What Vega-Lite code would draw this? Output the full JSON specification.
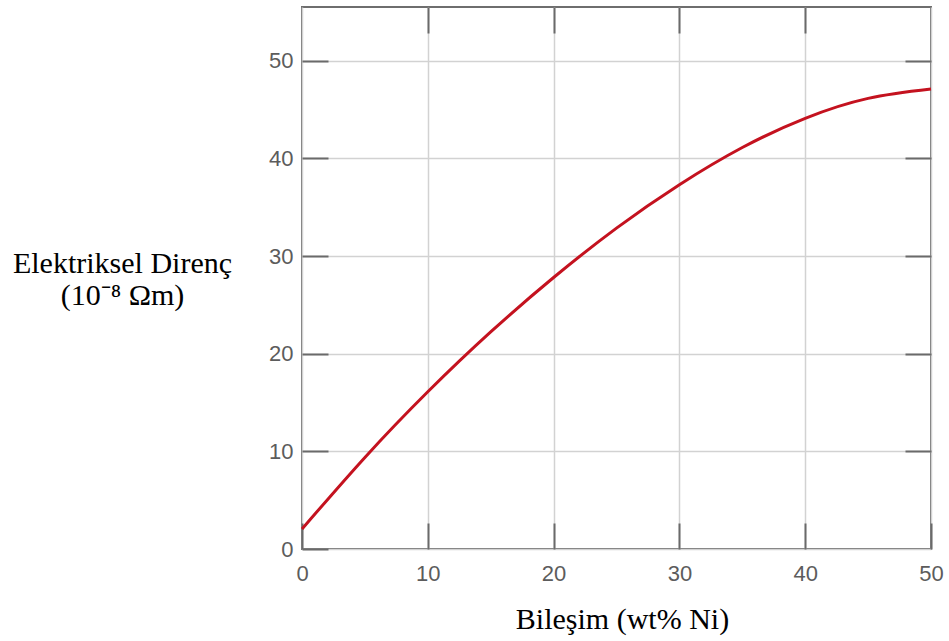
{
  "$schema": "https://vega.github.io/schema/vega-lite/v6.json",
  "width": 629,
  "height": 542,
  "autosize": {"type": "none"},
  "padding": {"left": 302, "top": 7, "right": 18, "bottom": 92},
  "background": "white",
  "config": {
    "view": {"stroke": "#6e6e6e", "strokeWidth": 2},
    "axis": {
      "domain": false,
      "tickColor": "#6a6a6a",
      "tickWidth": 2,
      "tickSize": -26,
      "gridColor": "#d2d2d2",
      "gridWidth": 1.5,
      "labelFont": "Liberation Sans",
      "labelFontSize": 22,
      "labelColor": "#5c5c5c",
      "labelFlush": false,
      "titleFont": "Liberation Serif",
      "titleFontSize": 30,
      "titleFontWeight": "normal",
      "titleColor": "#000000"
    }
  },
  "data": {
    "values": [
      {"ni": 0, "rho": 2.05},
      {"ni": 5, "rho": 9.38},
      {"ni": 10, "rho": 16.1},
      {"ni": 15, "rho": 22.23},
      {"ni": 20, "rho": 27.8},
      {"ni": 25, "rho": 32.86},
      {"ni": 30, "rho": 37.3},
      {"ni": 35, "rho": 41.11},
      {"ni": 40, "rho": 44.1},
      {"ni": 45, "rho": 46.14},
      {"ni": 50, "rho": 47.1}
    ]
  },
  "layer": [
    {
      "mark": {"type": "line", "color": "#c4121f", "strokeWidth": 3, "interpolate": "natural"},
      "encoding": {
        "x": {
          "field": "ni",
          "type": "quantitative",
          "scale": {"domain": [0, 50], "nice": false},
          "axis": {
            "orient": "bottom",
            "values": [0, 10, 20, 30, 40, 50],
            "grid": true,
            "labelPadding": 40,
            "title": "Bileşim (wt% Ni)",
            "titleX": 320,
            "titleY": 79,
            "titleAlign": "center",
            "titleBaseline": "alphabetic"
          }
        },
        "y": {
          "field": "rho",
          "type": "quantitative",
          "scale": {"domain": [0, 55.5], "nice": false},
          "axis": {
            "orient": "left",
            "values": [0, 10, 20, 30, 40, 50],
            "grid": true,
            "labelPadding": 35,
            "title": ["Elektriksel Direnç", "(10⁻⁸ Ωm)"],
            "titleAngle": 0,
            "titleX": -180,
            "titleY": 265,
            "titleAlign": "center",
            "titleBaseline": "alphabetic",
            "titleLineHeight": 32
          }
        }
      }
    },
    {
      "mark": {"type": "line", "opacity": 0},
      "encoding": {
        "x": {
          "field": "ni",
          "type": "quantitative",
          "axis": {"orient": "top", "values": [10, 20, 30, 40], "grid": false, "labels": false, "title": null}
        },
        "y": {
          "field": "rho",
          "type": "quantitative",
          "axis": {"orient": "right", "values": [10, 20, 30, 40, 50], "grid": false, "labels": false, "title": null}
        }
      }
    }
  ],
  "resolve": {"axis": {"x": "independent", "y": "independent"}}
}
